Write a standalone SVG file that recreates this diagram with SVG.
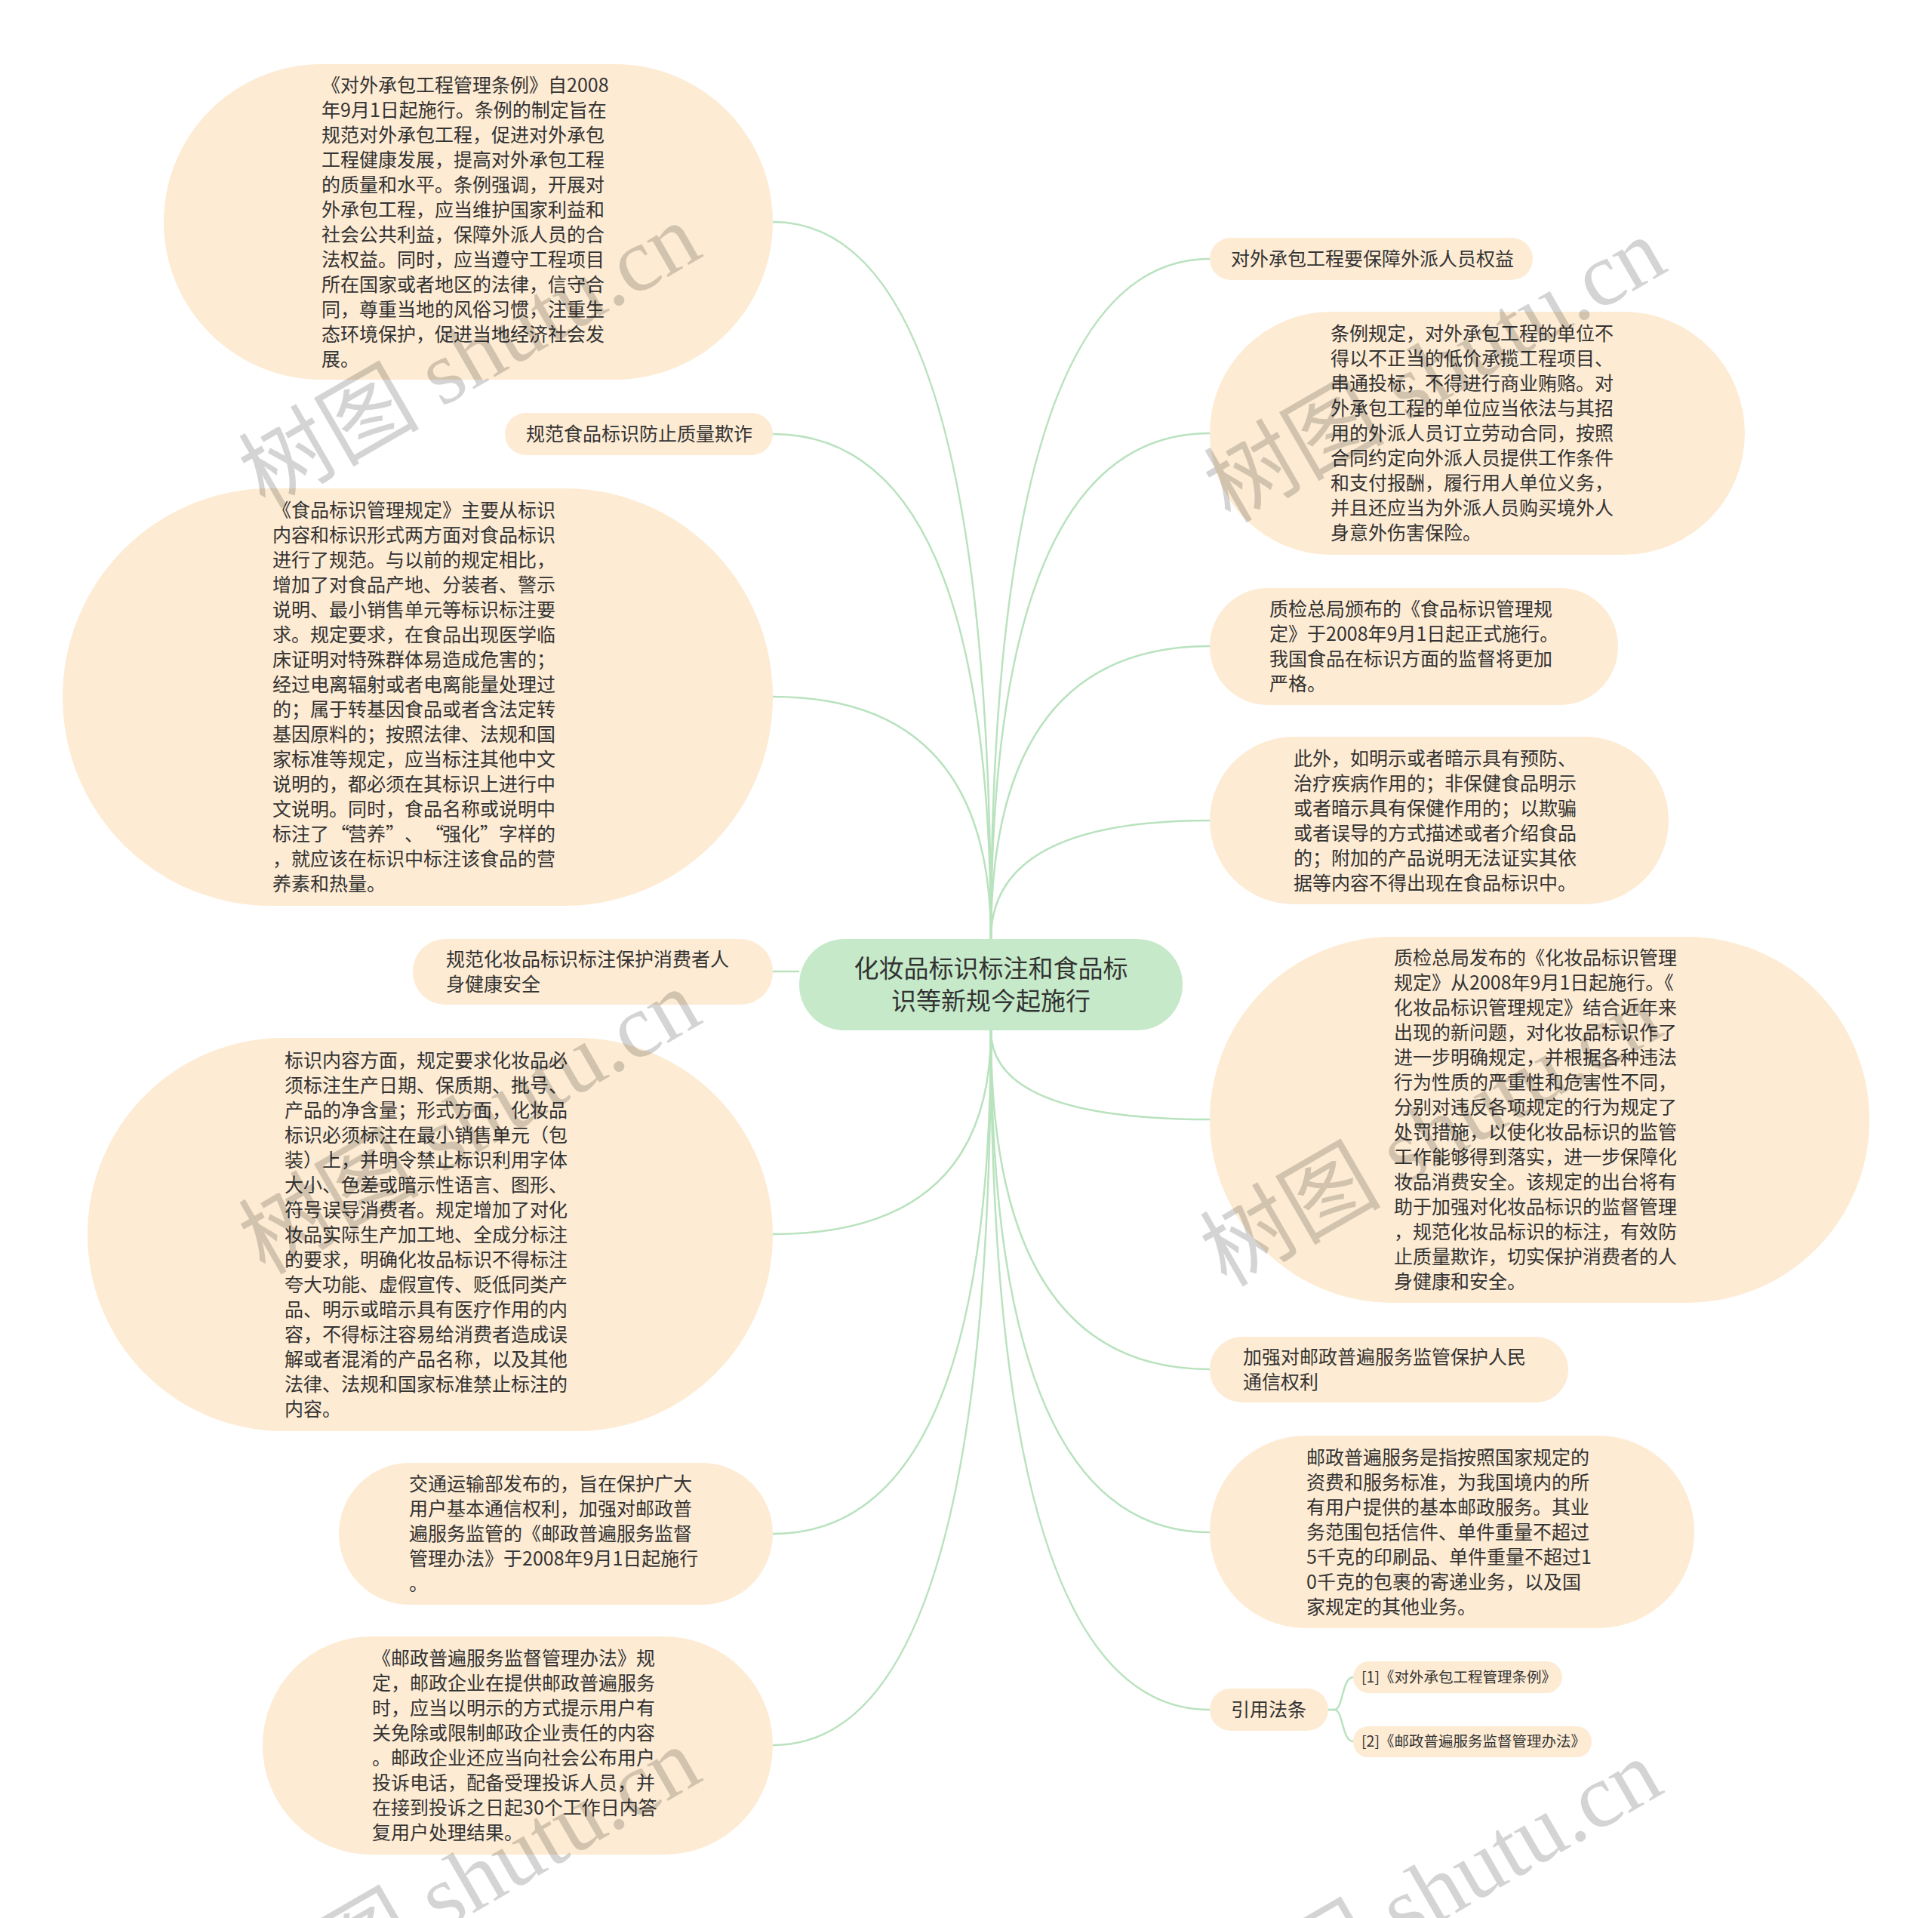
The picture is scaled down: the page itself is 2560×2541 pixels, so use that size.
<svg xmlns="http://www.w3.org/2000/svg" width="2560" height="2541" viewBox="0 0 2560 2541">
<style>
.n{fill:#fdebd3}
.c{fill:#c6eac9}
.t{font-family:"Noto Sans CJK SC","Noto Sans",sans-serif;font-size:25px;fill:#333}
.ct{font-family:"Noto Sans CJK SC","Noto Sans",sans-serif;font-size:33px;fill:#333;text-anchor:middle}
.st{font-family:"Noto Sans CJK SC","Noto Sans",sans-serif;font-size:19.5px;fill:#333}
.link{fill:none;stroke:#b9e2be;stroke-width:2.5}
.wm{font-family:"Liberation Serif","Noto Sans CJK SC",serif;font-size:120px;fill:#000;fill-opacity:0.17}
</style>
<rect width="2560" height="2541" fill="#ffffff"/>
<g id="connectors">
<path class="link" d="M1313 1244 Q1313 294 1024 294"/>
<path class="link" d="M1313 1244 Q1313 575 1024 575"/>
<path class="link" d="M1313 1244 Q1313 923 1024 923"/>
<path class="link" d="M1059 1287 L1024 1287"/>
<path class="link" d="M1313 1365 Q1313 1635 1024 1635"/>
<path class="link" d="M1313 1365 Q1313 2032 1024 2032"/>
<path class="link" d="M1313 1365 Q1313 2312 1024 2312"/>
<path class="link" d="M1313 1244 Q1313 343 1603 343"/>
<path class="link" d="M1313 1244 Q1313 574 1603 574"/>
<path class="link" d="M1313 1244 Q1313 856 1603 856"/>
<path class="link" d="M1313 1244 Q1313 1087 1603 1087"/>
<path class="link" d="M1313 1365 Q1313 1483 1603 1483"/>
<path class="link" d="M1313 1365 Q1313 1814 1603 1814"/>
<path class="link" d="M1313 1365 Q1313 2030 1603 2030"/>
<path class="link" d="M1313 1365 Q1313 2265 1603 2265"/>
<path class="link" d="M1760 2265 L1768 2265 C1780 2265 1778 2222 1793 2222"/>
<path class="link" d="M1760 2265 L1768 2265 C1780 2265 1778 2307 1793 2307"/>
</g>
<g id="center">
<rect class="c" x="1059" y="1244" width="508" height="121" rx="60"/>
<text class="ct" x="1313" y="1295">化妆品标识标注和食品标</text>
<text class="ct" x="1313" y="1338">识等新规今起施行</text>
</g>
<g id="L1">
<rect class="n" x="217" y="85" width="807" height="418" rx="209"/>
<text class="t" x="426" y="121.5">《对外承包工程管理条例》自2008<tspan x="426" dy="33">年9月1日起施行。条例的制定旨在</tspan><tspan x="426" dy="33">规范对外承包工程，促进对外承包</tspan><tspan x="426" dy="33">工程健康发展，提高对外承包工程</tspan><tspan x="426" dy="33">的质量和水平。条例强调，开展对</tspan><tspan x="426" dy="33">外承包工程，应当维护国家利益和</tspan><tspan x="426" dy="33">社会公共利益，保障外派人员的合</tspan><tspan x="426" dy="33">法权益。同时，应当遵守工程项目</tspan><tspan x="426" dy="33">所在国家或者地区的法律，信守合</tspan><tspan x="426" dy="33">同，尊重当地的风俗习惯，注重生</tspan><tspan x="426" dy="33">态环境保护，促进当地经济社会发</tspan><tspan x="426" dy="33">展。</tspan></text>
</g>
<g id="L2">
<rect class="n" x="669" y="547" width="355" height="56" rx="28"/>
<text class="t" x="697" y="584">规范食品标识防止质量欺诈</text>
</g>
<g id="L3">
<rect class="n" x="83" y="647" width="941" height="553" rx="276"/>
<text class="t" x="361" y="685">《食品标识管理规定》主要从标识<tspan x="361" dy="33">内容和标识形式两方面对食品标识</tspan><tspan x="361" dy="33">进行了规范。与以前的规定相比，</tspan><tspan x="361" dy="33">增加了对食品产地、分装者、警示</tspan><tspan x="361" dy="33">说明、最小销售单元等标识标注要</tspan><tspan x="361" dy="33">求。规定要求，在食品出现医学临</tspan><tspan x="361" dy="33">床证明对特殊群体易造成危害的；</tspan><tspan x="361" dy="33">经过电离辐射或者电离能量处理过</tspan><tspan x="361" dy="33">的；属于转基因食品或者含法定转</tspan><tspan x="361" dy="33">基因原料的；按照法律、法规和国</tspan><tspan x="361" dy="33">家标准等规定，应当标注其他中文</tspan><tspan x="361" dy="33">说明的，都必须在其标识上进行中</tspan><tspan x="361" dy="33">文说明。同时，食品名称或说明中</tspan><tspan x="361 386 411 438 461 486 511 536 563 586 611 636 661 686 711" dy="33">标注了“营养”、“强化”字样的</tspan><tspan x="361" dy="33">，就应该在标识中标注该食品的营</tspan><tspan x="361" dy="33">养素和热量。</tspan></text>
</g>
<g id="L4">
<rect class="n" x="547" y="1244" width="477" height="87" rx="43"/>
<text class="t" x="591" y="1280">规范化妆品标识标注保护消费者人<tspan x="591" dy="33">身健康安全</tspan></text>
</g>
<g id="L5">
<rect class="n" x="116" y="1375" width="908" height="521" rx="260"/>
<text class="t" x="377" y="1413.5">标识内容方面，规定要求化妆品必<tspan x="377" dy="33">须标注生产日期、保质期、批号、</tspan><tspan x="377" dy="33">产品的净含量；形式方面，化妆品</tspan><tspan x="377" dy="33">标识必须标注在最小销售单元（包</tspan><tspan x="377" dy="33">装）上，并明令禁止标识利用字体</tspan><tspan x="377" dy="33">大小、色差或暗示性语言、图形、</tspan><tspan x="377" dy="33">符号误导消费者。规定增加了对化</tspan><tspan x="377" dy="33">妆品实际生产加工地、全成分标注</tspan><tspan x="377" dy="33">的要求，明确化妆品标识不得标注</tspan><tspan x="377" dy="33">夸大功能、虚假宣传、贬低同类产</tspan><tspan x="377" dy="33">品、明示或暗示具有医疗作用的内</tspan><tspan x="377" dy="33">容，不得标注容易给消费者造成误</tspan><tspan x="377" dy="33">解或者混淆的产品名称，以及其他</tspan><tspan x="377" dy="33">法律、法规和国家标准禁止标注的</tspan><tspan x="377" dy="33">内容。</tspan></text>
</g>
<g id="L6">
<rect class="n" x="449" y="1938" width="575" height="188" rx="94"/>
<text class="t" x="542" y="1975">交通运输部发布的，旨在保护广大<tspan x="542" dy="33">用户基本通信权利，加强对邮政普</tspan><tspan x="542" dy="33">遍服务监管的《邮政普遍服务监督</tspan><tspan x="542" dy="33">管理办法》于2008年9月1日起施行</tspan><tspan x="542" dy="33">。</tspan></text>
</g>
<g id="L7">
<rect class="n" x="348" y="2168" width="676" height="289" rx="144"/>
<text class="t" x="493" y="2206">《邮政普遍服务监督管理办法》规<tspan x="493" dy="33">定，邮政企业在提供邮政普遍服务</tspan><tspan x="493" dy="33">时，应当以明示的方式提示用户有</tspan><tspan x="493" dy="33">关免除或限制邮政企业责任的内容</tspan><tspan x="493" dy="33">。邮政企业还应当向社会公布用户</tspan><tspan x="493" dy="33">投诉电话，配备受理投诉人员，并</tspan><tspan x="493" dy="33">在接到投诉之日起30个工作日内答</tspan><tspan x="493" dy="33">复用户处理结果。</tspan></text>
</g>
<g id="R1">
<rect class="n" x="1603" y="315" width="428" height="56" rx="28"/>
<text class="t" x="1631" y="352">对外承包工程要保障外派人员权益</text>
</g>
<g id="R2">
<rect class="n" x="1603" y="413" width="709" height="322" rx="161"/>
<text class="t" x="1763" y="451">条例规定，对外承包工程的单位不<tspan x="1763" dy="33">得以不正当的低价承揽工程项目、</tspan><tspan x="1763" dy="33">串通投标，不得进行商业贿赂。对</tspan><tspan x="1763" dy="33">外承包工程的单位应当依法与其招</tspan><tspan x="1763" dy="33">用的外派人员订立劳动合同，按照</tspan><tspan x="1763" dy="33">合同约定向外派人员提供工作条件</tspan><tspan x="1763" dy="33">和支付报酬，履行用人单位义务，</tspan><tspan x="1763" dy="33">并且还应当为外派人员购买境外人</tspan><tspan x="1763" dy="33">身意外伤害保险。</tspan></text>
</g>
<g id="R3">
<rect class="n" x="1603" y="779" width="541" height="155" rx="77"/>
<text class="t" x="1682" y="815.5">质检总局颁布的《食品标识管理规<tspan x="1682" dy="33">定》于2008年9月1日起正式施行。</tspan><tspan x="1682" dy="33">我国食品在标识方面的监督将更加</tspan><tspan x="1682" dy="33">严格。</tspan></text>
</g>
<g id="R4">
<rect class="n" x="1603" y="976" width="608" height="222" rx="111"/>
<text class="t" x="1714" y="1013.5">此外，如明示或者暗示具有预防、<tspan x="1714" dy="33">治疗疾病作用的；非保健食品明示</tspan><tspan x="1714" dy="33">或者暗示具有保健作用的；以欺骗</tspan><tspan x="1714" dy="33">或者误导的方式描述或者介绍食品</tspan><tspan x="1714" dy="33">的；附加的产品说明无法证实其依</tspan><tspan x="1714" dy="33">据等内容不得出现在食品标识中。</tspan></text>
</g>
<g id="R5">
<rect class="n" x="1603" y="1241" width="874" height="485" rx="242"/>
<text class="t" x="1847" y="1278">质检总局发布的《化妆品标识管理<tspan x="1847" dy="33">规定》从2008年9月1日起施行。《</tspan><tspan x="1847" dy="33">化妆品标识管理规定》结合近年来</tspan><tspan x="1847" dy="33">出现的新问题，对化妆品标识作了</tspan><tspan x="1847" dy="33">进一步明确规定，并根据各种违法</tspan><tspan x="1847" dy="33">行为性质的严重性和危害性不同，</tspan><tspan x="1847" dy="33">分别对违反各项规定的行为规定了</tspan><tspan x="1847" dy="33">处罚措施，以使化妆品标识的监管</tspan><tspan x="1847" dy="33">工作能够得到落实，进一步保障化</tspan><tspan x="1847" dy="33">妆品消费安全。该规定的出台将有</tspan><tspan x="1847" dy="33">助于加强对化妆品标识的监督管理</tspan><tspan x="1847" dy="33">，规范化妆品标识的标注，有效防</tspan><tspan x="1847" dy="33">止质量欺诈，切实保护消费者的人</tspan><tspan x="1847" dy="33">身健康和安全。</tspan></text>
</g>
<g id="R6">
<rect class="n" x="1603" y="1771" width="475" height="87" rx="43"/>
<text class="t" x="1647" y="1807">加强对邮政普遍服务监管保护人民<tspan x="1647" dy="33">通信权利</tspan></text>
</g>
<g id="R7">
<rect class="n" x="1603" y="1902" width="642" height="255" rx="127"/>
<text class="t" x="1731" y="1939.5">邮政普遍服务是指按照国家规定的<tspan x="1731" dy="33">资费和服务标准，为我国境内的所</tspan><tspan x="1731" dy="33">有用户提供的基本邮政服务。其业</tspan><tspan x="1731" dy="33">务范围包括信件、单件重量不超过</tspan><tspan x="1731" dy="33">5千克的印刷品、单件重量不超过1</tspan><tspan x="1731" dy="33">0千克的包裹的寄递业务，以及国</tspan><tspan x="1731" dy="33">家规定的其他业务。</tspan></text>
</g>
<g id="R8">
<rect class="n" x="1603" y="2237" width="157" height="56" rx="28"/>
<text class="t" x="1631" y="2273.5">引用法条</text>
</g>
<g id="S1">
<rect class="n" x="1793" y="2201" width="277" height="42" rx="21"/>
<text class="st" x="1804" y="2229">[1]《对外承包工程管理条例》</text>
</g>
<g id="S2">
<rect class="n" x="1793" y="2287" width="316" height="41" rx="20"/>
<text class="st" x="1804" y="2314">[2]《邮政普遍服务监督管理办法》</text>
</g>
<g id="watermarks">
<text class="wm" transform="translate(351 675) rotate(-30)">树图 shutu.cn</text>
<text class="wm" transform="translate(1630 694) rotate(-30)">树图 shutu.cn</text>
<text class="wm" transform="translate(351 1690) rotate(-30)">树图 shutu.cn</text>
<text class="wm" transform="translate(1625 1706) rotate(-30)">树图 shutu.cn</text>
<text class="wm" transform="translate(351 2694) rotate(-30)">树图 shutu.cn</text>
<text class="wm" transform="translate(1625 2710) rotate(-30)">树图 shutu.cn</text>
</g>
</svg>
